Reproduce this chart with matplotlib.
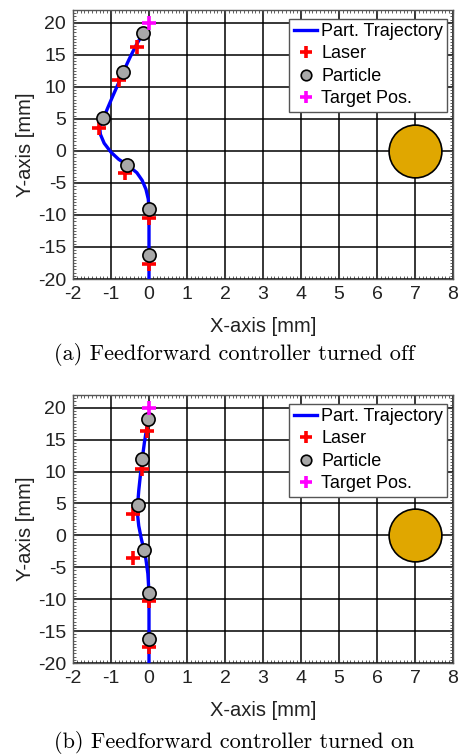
import numpy as np
import matplotlib.pyplot as plt
from matplotlib.ticker import MultipleLocator

# (a) feedforward off
traj_a_x = [0, 0, 0, -0.02, -0.08, -0.18, -0.32, -0.57, -0.8, -1.0, -1.18, -1.28, -1.3, -1.2, -1.08, -0.95, -0.8, -0.68, -0.5, -0.33, -0.15]
traj_a_y = [-20, -12, -9, -7.5, -6, -4.6, -3.4, -2.2, -1.3, -0.2, 1.2, 2.6, 3.8, 5.1, 6.8, 8.6, 10.6, 12.3, 14.6, 16.6, 18.4]
part_a_x = [-0.15, -0.68, -1.2, -0.57, 0, 0]
part_a_y = [18.4, 12.3, 5.1, -2.2, -9.05, -16.25]
laser_a_x = [-0.32, -0.78, -1.31, -0.62, 0, 0]
laser_a_y = [16.3, 11.0, 3.6, -3.5, -10.4, -17.7]

# (b) feedforward on
traj_b_x = [0, 0, 0, -0.03, -0.08, -0.13, -0.2, -0.27, -0.3, -0.3, -0.27, -0.22, -0.18, -0.12, -0.06, -0.03]
traj_b_y = [-20, -12, -9, -6, -3.8, -2.3, -0.6, 1.5, 3.2, 4.7, 7.0, 9.8, 11.9, 14.6, 16.8, 18.2]
part_b_x = [-0.03, -0.18, -0.3, -0.13, 0, 0]
part_b_y = [18.2, 11.9, 4.7, -2.3, -9.0, -16.25]
laser_b_x = [-0.06, -0.19, -0.43, -0.41, 0, 0]
laser_b_y = [16.3, 10.4, 3.4, -3.6, -10.3, -17.5]

target = (0, 20)
obstacle = (7, 0)

captions = ['(a) Feedforward controller turned off', '(b) Feedforward controller turned on']

plt.rcParams['font.family'] = ['Liberation Sans', 'DejaVu Sans']
plt.rcParams['axes.unicode_minus'] = False

fig = plt.figure(figsize=(4.62, 7.54), dpi=100)
W, H = 462, 754
boxes = [(73, 10, 453, 279), (73, 395, 453, 663)]
cap_y = [355, 742]
xlab_y = [327, 710]

data = [(traj_a_x, traj_a_y, part_a_x, part_a_y, laser_a_x, laser_a_y),
        (traj_b_x, traj_b_y, part_b_x, part_b_y, laser_b_x, laser_b_y)]

for i, (l, t, r, b) in enumerate(boxes):
    ax = fig.add_axes([l / W, 1 - b / H, (r - l) / W, (b - t) / H])
    tx, ty, px, py, lx, ly = data[i]
    ax.scatter([obstacle[0]], [obstacle[1]], s=38**2, color='#E0A700', edgecolor='black', linewidth=1.2, zorder=3)
    ax.plot(tx, ty, color='#0000FF', lw=2.4, zorder=4, label='Part. Trajectory')
    ax.plot(lx, ly, '+', color='#FF0000', ms=10, mew=2.6, zorder=5, label='Laser')
    ax.plot(px, py, 'o', color='#A8A8A8', mec='black', ms=9.5, mew=1.2, zorder=6, label='Particle')
    ax.plot([target[0]], [target[1]], '+', color='#FF00FF', ms=10, mew=2.6, zorder=7, label='Target Pos.')
    ax.set_xlim(-2, 8)
    ax.set_ylim(-20, 22)
    ax.set_xticks(range(-2, 9))
    ax.set_yticks(range(-20, 21, 5))
    ax.xaxis.set_minor_locator(MultipleLocator(0.1))
    ax.yaxis.set_minor_locator(MultipleLocator(0.5))
    ax.grid(True, which='major', color='black', lw=1.1, zorder=1)
    ax.set_axisbelow(True)
    ax.tick_params(which='both', direction='in', top=True, right=True, labelsize=14, colors='#444444', labelcolor='#222222')
    ax.tick_params(which='major', length=3, pad=5)
    ax.tick_params(which='minor', length=2, width=0.6)
    for s in ax.spines.values():
        s.set_color('#555555')
        s.set_linewidth(1)
    ax.set_ylabel('Y-axis [mm]', fontsize=14.5, color='#222222', labelpad=2)
    leg = ax.legend(loc='upper right', bbox_to_anchor=(0.99, 0.975), fontsize=13, frameon=True, fancybox=False,
                    handlelength=1.3, handletextpad=0.2, borderpad=0.25, labelspacing=0.3,
                    borderaxespad=0.1, markerscale=0.8)
    leg.get_frame().set_edgecolor('#555555')
    leg.get_frame().set_linewidth(1)
    leg.get_frame().set_alpha(1)
    fig.text(0.5 * (l + r) / W, 1 - xlab_y[i] / H, 'X-axis [mm]', fontsize=14.5, color='#222222', ha='center', va='center')
    fig.text(234 / W, 1 - cap_y[i] / H, captions[i], family='cmr10', fontsize=16, ha='center', va='center')

fig.savefig('out.png', dpi=100)
